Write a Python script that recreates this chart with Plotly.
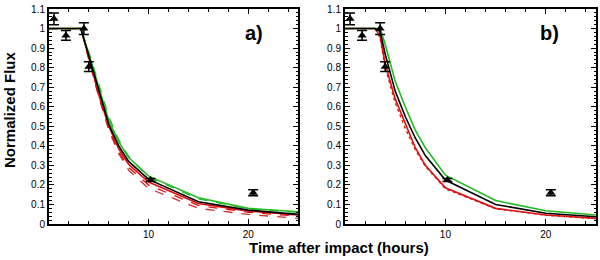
import plotly.graph_objects as go

# ---- data ----
t_model = [0, 3.2, 4, 5, 6, 7, 8, 10, 15, 20, 25]
a_black = [1, 1, 0.86, 0.68, 0.51, 0.40, 0.32, 0.228, 0.114, 0.071, 0.049]
a_green = [1, 1, 0.87, 0.70, 0.53, 0.42, 0.34, 0.245, 0.134, 0.080, 0.063]
a_green_dash = [1, 1, 0.88, 0.72, 0.55, 0.43, 0.345, 0.240, 0.128, 0.078, 0.060]
a_red = [1, 1, 0.85, 0.66, 0.50, 0.385, 0.305, 0.215, 0.105, 0.066, 0.046]
a_red_dash1 = [1, 1, 0.85, 0.655, 0.49, 0.37, 0.29, 0.199, 0.095, 0.060, 0.040]
a_red_dash2 = [1, 1, 0.84, 0.65, 0.48, 0.36, 0.275, 0.182, 0.080, 0.049, 0.029]

t_b = [0, 3.0, 3.5, 4, 5, 6, 7, 8, 10, 15, 20, 25]
b_red = [1, 1, 0.96, 0.82, 0.64, 0.51, 0.39, 0.30, 0.185, 0.080, 0.046, 0.029]
b_red_dash = [1, 1, 0.95, 0.80, 0.62, 0.49, 0.38, 0.295, 0.180, 0.078, 0.045, 0.028]
b_black = [1, 1, 0.985, 0.87, 0.68, 0.55, 0.44, 0.35, 0.225, 0.100, 0.055, 0.037]
b_green = [1, 1, 1.0, 0.92, 0.73, 0.60, 0.48, 0.39, 0.250, 0.120, 0.068, 0.046]

obs_t = [0.5, 1.7, 3.5, 4.0, 10.2, 20.5]
obs_f = [1.05, 0.965, 1.0, 0.805, 0.225, 0.16]
obs_err = [0.03, 0.025, 0.03, 0.025, 0.008, 0.015]

y_ticks = [0, 0.1, 0.2, 0.3, 0.4, 0.5, 0.6, 0.7, 0.8, 0.9, 1.0, 1.1]
y_ticktext = ["0", "0.1", "0.2", "0.3", "0.4", "0.5", "0.6", "0.7", "0.8", "0.9", "1", "1.1"]
x_ticks = [10, 20]
x_ticktext = ["10", "20"]

RED = "#dd1111"
GREEN = "#22bb22"
DRED = "#cc3333"
FONT = "Liberation Sans, Arial"

fig = go.Figure()

def line(x, y, color, dash, xa, ya, width=1.6):
    fig.add_trace(go.Scatter(x=x, y=y, mode="lines", line=dict(color=color, width=width, dash=dash),
                             xaxis=xa, yaxis=ya, showlegend=False, hoverinfo="skip"))

# panel a
line(t_model, a_red_dash2, DRED, "dash", "x", "y", 1.3)
line(t_model, a_red_dash1, RED, "dash", "x", "y", 1.3)
line(t_model, a_green_dash, GREEN, "dash", "x", "y", 1.3)
line(t_model, a_red, RED, "solid", "x", "y")
line(t_model, a_green, GREEN, "solid", "x", "y")
line(t_model, a_black, "black", "solid", "x", "y")
# panel b
line(t_b, b_red_dash, RED, "dot", "x2", "y2", 1.3)
line(t_b, b_red, RED, "solid", "x2", "y2")
line(t_b, b_green, GREEN, "solid", "x2", "y2")
line(t_b, b_black, "black", "solid", "x2", "y2")

for xa, ya in (("x", "y"), ("x2", "y2")):
    fig.add_trace(go.Scatter(x=obs_t, y=obs_f, mode="markers",
                             marker=dict(symbol="triangle-up", size=8, color="black"),
                             error_y=dict(type="data", array=obs_err, color="black", thickness=1.5, width=5),
                             xaxis=xa, yaxis=ya, showlegend=False, hoverinfo="skip"))

xcommon = dict(range=[0, 25], tickvals=x_ticks, ticktext=x_ticktext, ticks="inside", ticklen=5,
               tickwidth=1.2, tickcolor="black", showline=True, linecolor="black", linewidth=2,
               mirror="allticks", showgrid=False, zeroline=False, automargin=False,
               minor=dict(ticks="inside", dtick=2, tick0=0, ticklen=3, tickcolor="black", tickwidth=1),
               tickfont=dict(family=FONT, size=10, color="black"))
ycommon = dict(range=[0, 1.1], tickvals=y_ticks, ticktext=y_ticktext, ticks="inside", ticklen=5,
               tickwidth=1.2, tickcolor="black", showline=True, linecolor="black", linewidth=2,
               mirror="allticks", showgrid=False, zeroline=False, automargin=False,
               minor=dict(ticks="inside", dtick=0.02, tick0=0, ticklen=2.5, tickcolor="black", tickwidth=1),
               tickfont=dict(family=FONT, size=10, color="black"))

fig.update_layout(
    width=600, height=260, margin=dict(l=0, r=0, t=0, b=0, pad=0), autosize=False,
    paper_bgcolor="white", plot_bgcolor="white",
    xaxis=dict(domain=[49/600, 298/600], anchor="y", **xcommon),
    yaxis=dict(domain=[36/260, 251/260], anchor="x", **ycommon),
    xaxis2=dict(domain=[345/600, 596/600], anchor="y2", **xcommon),
    yaxis2=dict(domain=[36/260, 251/260], anchor="x2", **ycommon),
    annotations=[
        dict(text="<b>a)</b>", x=254/600, y=(260-33)/260, xref="paper", yref="paper", showarrow=False,
             xanchor="center", yanchor="middle",
             font=dict(family=FONT, size=20, color="black")),
        dict(text="<b>b)</b>", x=549/600, y=(260-33)/260, xref="paper", yref="paper", showarrow=False,
             xanchor="center", yanchor="middle",
             font=dict(family=FONT, size=20, color="black")),
        dict(text="<b>Normalized Flux</b>", x=9/600, y=(260-110)/260, xref="paper", yref="paper",
             showarrow=False, textangle=-90, xanchor="center", yanchor="middle",
             font=dict(family=FONT, size=15, color="black")),
        dict(text="<b>Time after impact (hours)</b>", x=339/600, y=(260-248)/260, xref="paper", yref="paper",
             showarrow=False, xanchor="center", yanchor="middle",
             font=dict(family=FONT, size=15, color="black")),
    ],
)

fig.write_html("out.html", config={"displayModeBar": False},
               post_script="document.body.style.margin='0';document.body.style.overflow='hidden';")
